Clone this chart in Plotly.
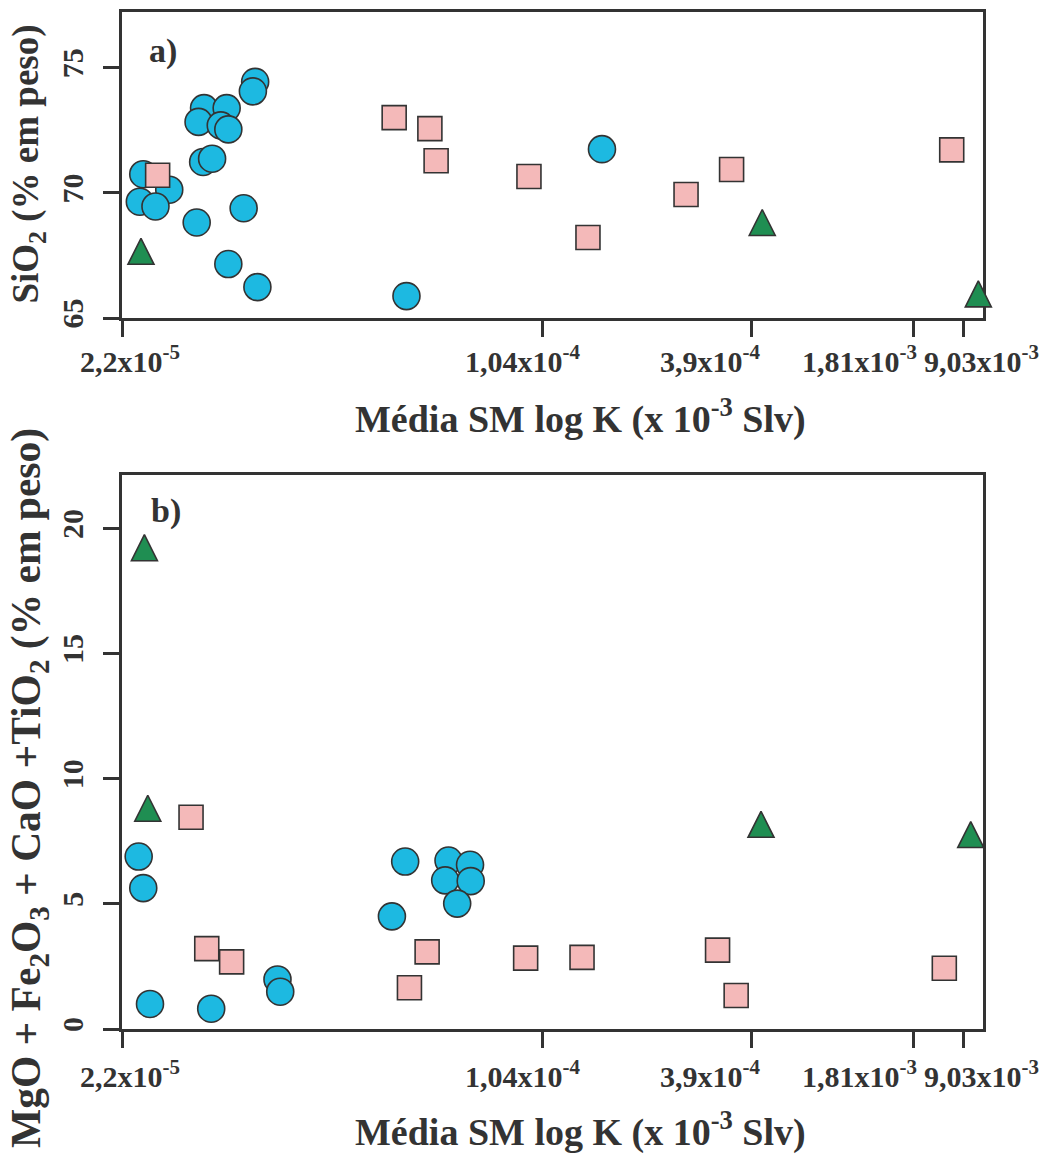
import numpy as np
import plotly.graph_objects as go

# ---------------- axis definition (non-uniform K scale) ----------------
TICK_K = [2.2e-5, 1.04e-4, 3.9e-4, 1.81e-3, 9.03e-3]
TICK_TEXT = ["2,2x10<sup>-5</sup>", "1,04x10<sup>-4</sup>", "3,9x10<sup>-4</sup>",
             "1,81x10<sup>-3</sup>", "9,03x10<sup>-3</sup>"]
TICK_POS = [0.0, 0.4878, 0.7317, 0.9187, 0.9768]      # relative place of each tick on the axis
LABEL_POS = [0.0093, 0.4646, 0.6829, 0.8571, 0.9988]  # where each tick label is centred

# ---------------- panel a) SiO2 ----------------
A_CIRC_K = [3.60e-5, 3.57e-5, 2.98e-5, 3.24e-5, 2.92e-5, 3.17e-5, 3.26e-5, 2.97e-5,
            3.07e-5, 2.38e-5, 2.62e-5, 2.35e-5, 2.49e-5, 2.90e-5, 3.45e-5, 3.26e-5,
            3.63e-5, 6.30e-5, 1.517e-4]
A_CIRC_Y = [74.44, 74.06, 73.39, 73.39, 72.84, 72.70, 72.54, 71.24,
            71.37, 70.75, 70.13, 69.65, 69.46, 68.82, 69.39, 67.16,
            66.24, 65.88, 71.75]
A_SQ_K = [2.51e-5, 6.02e-5, 6.87e-5, 7.03e-5, 9.91e-5, 1.389e-4, 2.575e-4, 3.43e-4, 6.28e-3]
A_SQ_Y = [70.71, 73.01, 72.57, 71.29, 70.66, 68.22, 69.94, 70.94, 71.72]
A_TRI_K = [2.36e-5, 4.30e-4, 1.476e-2]
A_TRI_Y = [67.67, 68.82, 65.97]

# ---------------- panel b) MgO + Fe2O3 + CaO + TiO2 ----------------
B_CIRC_K = [2.34e-5, 2.38e-5, 3.91e-5, 3.95e-5, 2.44e-5, 3.06e-5, 6.27e-5, 7.36e-5,
            7.97e-5, 7.27e-5, 7.99e-5, 7.60e-5, 5.97e-5]
B_CIRC_Y = [6.89, 5.63, 1.98, 1.49, 1.00, 0.81, 6.69, 6.73,
            6.56, 5.94, 5.91, 5.01, 4.50]
B_SQ_K = [2.84e-5, 3.01e-5, 3.30e-5, 6.80e-5, 6.37e-5, 9.79e-5, 1.338e-4, 3.14e-4, 3.53e-4, 4.95e-3]
B_SQ_Y = [8.46, 3.21, 2.68, 3.08, 1.65, 2.83, 2.86, 3.15, 1.34, 2.43]
B_TRI_K = [2.39e-5, 2.42e-5, 4.25e-4, 1.157e-2]
B_TRI_Y = [19.23, 8.82, 8.18, 7.77]


def axis_pos(k):
    """Piecewise-logarithmic placement along the K axis defined by the ticks."""
    lk = np.log10(np.asarray(k, dtype=float))
    lt = np.log10(TICK_K)
    p = np.asarray(TICK_POS)
    out = np.interp(lk, lt, p)
    hi = lk > lt[-1]
    out[hi] = p[-1] + (lk[hi] - lt[-1]) * (p[-1] - p[-2]) / (lt[-1] - lt[-2])
    lo = lk < lt[0]
    out[lo] = p[0] + (lk[lo] - lt[0]) * (p[1] - p[0]) / (lt[1] - lt[0])
    return out


LINE = "#333333"
CIRC_FILL = "#1DB9E1"
SQ_FILL = "#F4B9B9"
TRI_FILL = "#1F8E52"
FONT = "Liberation Serif"

fig = go.Figure()


def add_points(xk, y, symbol, fill, size, yaxis, extra=None):
    marker = dict(symbol=symbol, size=size, color=fill, line=dict(color=LINE, width=1.6))
    if extra:
        marker.update(extra)
    fig.add_trace(go.Scatter(x=axis_pos(xk), y=y, mode="markers", marker=marker,
                             xaxis="x" if yaxis == "y" else "x2", yaxis=yaxis,
                             cliponaxis=False, showlegend=False))


tri_extra = dict(angle=180, standoff=13)
add_points(A_CIRC_K, A_CIRC_Y, "circle", CIRC_FILL, 27, "y")
add_points(A_SQ_K, A_SQ_Y, "square", SQ_FILL, 24, "y")
add_points(A_TRI_K, A_TRI_Y, "arrow-down", TRI_FILL, 26, "y", tri_extra)
add_points(B_CIRC_K, B_CIRC_Y, "circle", CIRC_FILL, 27, "y2")
add_points(B_SQ_K, B_SQ_Y, "square", SQ_FILL, 24, "y2")
add_points(B_TRI_K, B_TRI_Y, "arrow-down", TRI_FILL, 26, "y2", tri_extra)

common = dict(showline=True, linewidth=3, linecolor=LINE, mirror=True,
              ticks="outside", ticklen=16, tickwidth=3, tickcolor=LINE,
              showgrid=False, zeroline=False, layer="below traces",
              tickfont=dict(family=FONT, size=30, color=LINE, weight="bold"))

xcommon = dict(common, range=[0, 1], tickmode="array", tickvals=TICK_POS,
               ticktext=TICK_TEXT, showticklabels=False)
ycommon = dict(common, tickangle=-90, tickmode="array", ticklabelstandoff=8)

fig.update_layout(
    width=1057, height=1157,
    margin=dict(l=122, r=74, t=9, b=128),
    paper_bgcolor="white", plot_bgcolor="white",
    xaxis=dict(xcommon, anchor="y", domain=[0, 1]),
    yaxis=dict(ycommon, anchor="x", domain=[0.699, 1.0], range=[65, 77.23], tickvals=[65, 70, 75]),
    xaxis2=dict(xcommon, anchor="y2", domain=[0, 1]),
    yaxis2=dict(ycommon, anchor="x2", domain=[0, 0.5451], range=[0, 22.15],
                tickvals=[0, 5, 10, 15, 20]),
)

# x tick labels (placed like the original, which shifts the crowded ones apart)
tkfont = dict(family=FONT, size=30, color=LINE, weight="bold")
for xref, ylab in (("x", 0.659), ("x2", -0.044)):
    for pos, txt in zip(LABEL_POS, TICK_TEXT):
        fig.add_annotation(text=txt, x=pos, xref=xref, y=ylab, yref="paper",
                           showarrow=False, xanchor="center", yanchor="middle", font=tkfont)

xtitle = "Média SM log K (x 10<sup>-3</sup> Slv)"
annots = [
    dict(text="SiO<sub>2</sub> (% em peso)", x=-0.108, y=0.85, textangle=-90, size=37),
    dict(text="MgO + Fe<sub>2</sub>O<sub>3</sub> + CaO +TiO<sub>2</sub> (% em peso)",
         x=-0.108, y=0.237, textangle=-90, size=41.5),
    dict(text=xtitle, x=0.532, y=0.602, size=38),
    dict(text=xtitle, x=0.532, y=-0.099, size=38),
]
for a in annots:
    size = a.pop("size")
    fig.add_annotation(xref="paper", yref="paper", showarrow=False, xanchor="center",
                       yanchor="middle", font=dict(family=FONT, size=size, color=LINE, weight="bold"),
                       **a)

lfont = dict(family=FONT, size=34, color=LINE, weight="bold")
fig.add_annotation(text="a)", xref="paper", yref="paper", x=0.048, y=0.962,
                   showarrow=False, xanchor="center", yanchor="middle", font=lfont)
fig.add_annotation(text="b)", xref="paper", yref="paper", x=0.051, y=0.509,
                   showarrow=False, xanchor="center", yanchor="middle", font=lfont)

fig.write_html("out.html")
